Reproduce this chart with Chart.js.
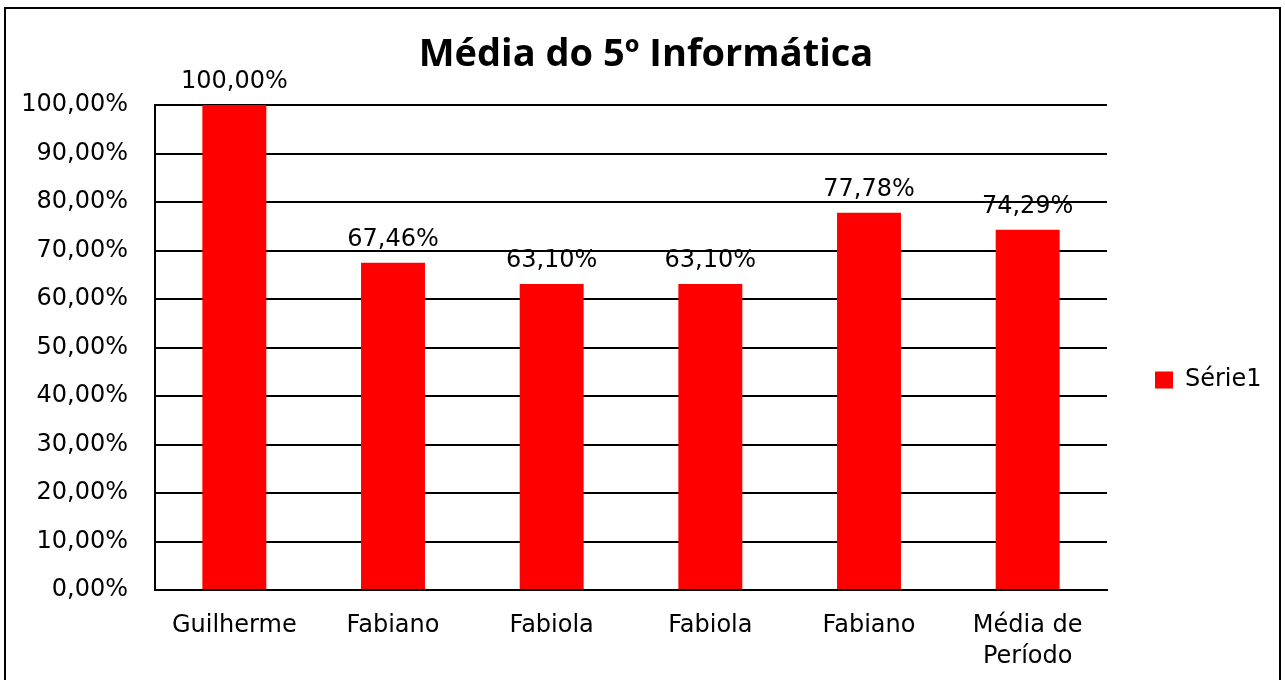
<!DOCTYPE html>
<html>
<head>
<meta charset="utf-8">
<script src="https://cdn.jsdelivr.net/npm/chart.js@4/dist/chart.umd.min.js"></script>
<style>
  html, body { margin: 0; padding: 0; background: #fff; overflow: hidden; width: 1285px; height: 680px; }
  #frame { position: absolute; left: 4px; top: 7px; width: 1277px; height: 800px; border: 2px solid #000; border-bottom: none; box-sizing: border-box; }
  #wrap { position: absolute; left: 0; top: 0; width: 1285px; height: 760px; }
</style>
</head>
<body>
<div id="frame"></div>
<div id="wrap"><canvas id="c" width="1285" height="760"></canvas></div>
<script>
const categories = ['Guilherme', 'Fabiano', 'Fabiola', 'Fabiola', 'Fabiano', ['Média de', 'Período']];
const seriesName = 'Série1';
const seriesValues = [100.00, 67.46, 63.10, 63.10, 77.78, 74.29];
const yTicks = [0, 10, 20, 30, 40, 50, 60, 70, 80, 90, 100];

const FONT = 'DejaVu Sans';
const FS = 24;
const fmt = v => v.toFixed(2).replace('.', ',') + '%';

const valueLabels = {
  id: 'valueLabels',
  afterDatasetsDraw(chart) {
    const ctx = chart.ctx;
    const meta = chart.getDatasetMeta(0);
    ctx.save();
    ctx.font = FS + 'px "' + FONT + '"';
    ctx.fillStyle = '#000';
    ctx.textAlign = 'center';
    ctx.textBaseline = 'middle';
    meta.data.forEach((bar, i) => {
      ctx.fillText(fmt(seriesValues[i]), bar.x, bar.y - 23);
    });
    ctx.restore();
  }
};

// keep the legend column at a fixed width so the plot area ends where the reference's does
const legendWidth = {
  id: 'legendWidth',
  beforeLayout(chart) {
    const lg = chart.legend;
    if (lg && !lg._fixedW) {
      const orig = lg.fit.bind(lg);
      lg.fit = function () { orig(); this.width = 175; };
      lg._fixedW = true;
    }
  }
};

new Chart(document.getElementById('c'), {
  type: 'bar',
  data: {
    labels: categories,
    datasets: [{
      label: seriesName,
      data: seriesValues,
      backgroundColor: '#ff0000',
      borderWidth: 0,
      barPercentage: 0.403,
      categoryPercentage: 1.0
    }]
  },
  options: {
    responsive: false,
    animation: false,
    layout: { padding: { left: 10, right: 3, top: 0, bottom: 0 } },
    plugins: {
      title: {
        display: true,
        text: 'Média do 5º Informática',
        color: '#000',
        font: { family: 'Open Sans', size: 38, weight: 'bold', lineHeight: 1.2 },
        padding: { top: 32, bottom: 27.4 }
      },
      legend: {
        position: 'right',
        labels: {
          color: '#000',
          font: { family: FONT, size: FS },
          boxWidth: 18,
          boxHeight: 17,
          padding: 48
        }
      },
      tooltip: { enabled: false }
    },
    scales: {
      x: {
        grid: { display: true, drawOnChartArea: false, drawTicks: false },
        border: { display: true, color: '#000', width: 2 },
        ticks: {
          color: '#000',
          font: { family: FONT, size: FS, lineHeight: 1.3 },
          padding: 20,
          maxRotation: 0,
          autoSkip: false
        },
        afterFit(scale) { scale.height = 170; }
      },
      y: {
        min: 0,
        max: 100,
        afterBuildTicks(scale) { scale.ticks = yTicks.map(v => ({ value: v })); },
        grid: { color: '#000', lineWidth: 2, drawTicks: false },
        border: { display: true, color: '#000', width: 2 },
        ticks: {
          color: '#000',
          font: { family: FONT, size: FS },
          padding: 27,
          callback: v => fmt(v)
        },
        afterFit(scale) { scale.width = 145; }
      }
    }
  },
  plugins: [valueLabels, legendWidth]
});
</script>
</body>
</html>
